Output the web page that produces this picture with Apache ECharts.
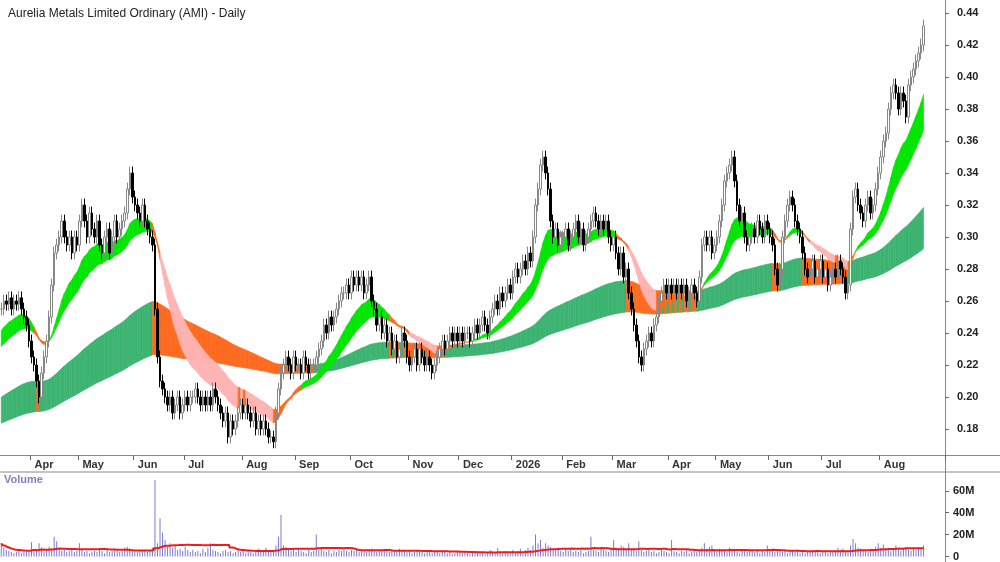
<!DOCTYPE html>
<html><head><meta charset="utf-8">
<script src="https://cdn.jsdelivr.net/npm/echarts@6/dist/echarts.min.js"></script>
<style>html,body{margin:0;padding:0;background:#fff}#c{width:1000px;height:562px}</style>
</head><body><div id="c"></div>
<script>
const title = 'Aurelia Metals Limited Ordinary (AMI) - Daily';
const startDate = '2025-03-14';
const blankDaysAfter = 8;
const holidays = ['2025-04-18','2025-04-21','2025-04-25','2025-06-09','2025-12-25','2025-12-26','2026-01-01','2026-01-26','2026-04-03','2026-04-06','2026-04-27','2026-06-08'];
const closes = [
0.255,0.26,0.258,0.262,0.255,0.26,0.258,0.262,0.255,0.25,
0.245,0.235,0.225,0.22,0.21,0.20,0.215,0.225,0.235,
0.25,0.27,0.29,0.295,0.30,0.31,0.30,0.295,0.30,0.29,
0.30,0.295,0.31,0.32,0.31,0.30,0.315,0.305,0.30,
0.31,0.295,0.29,0.30,0.305,0.29,0.30,0.31,0.30,0.305,
0.31,0.315,0.33,0.34,0.325,0.32,0.315,0.31,0.32,
0.31,0.305,0.30,0.295,0.255,0.225,0.21,0.205,0.20,0.195,
0.20,0.19,0.195,0.20,0.19,0.195,0.20,0.195,0.20,
0.20,0.205,0.20,0.195,0.20,0.195,0.20,0.195,0.205,0.20,
0.195,0.19,0.185,0.19,0.175,0.185,0.18,0.185,0.19,
0.195,0.19,0.195,0.19,0.185,0.19,0.18,0.185,0.18,0.185,
0.18,0.175,0.175,0.172,0.19,0.205,0.215,0.22,0.225,
0.22,0.215,0.225,0.22,0.22,0.215,0.225,0.22,0.215,0.22,
0.22,0.225,0.23,0.235,0.245,0.24,0.25,0.245,0.25,
0.255,0.26,0.265,0.265,0.27,0.265,0.275,0.27,0.275,0.27,
0.275,0.265,0.27,0.275,0.26,0.255,0.245,0.25,0.24,
0.245,0.235,0.24,0.23,0.235,0.225,0.23,0.24,0.235,0.225,
0.22,0.225,0.23,0.22,0.23,0.225,0.22,0.225,0.22,
0.215,0.22,0.225,0.23,0.235,0.23,0.235,0.24,0.235,0.24,
0.235,0.24,0.235,0.24,0.24,0.235,0.24,0.245,0.24,
0.245,0.25,0.245,0.24,0.25,0.255,0.26,0.255,0.265,0.26,
0.265,0.27,0.265,0.275,0.28,0.275,0.28,0.285,0.28,
0.29,0.285,0.30,0.32,0.33,0.345,0.35,0.34,0.33,0.31,
0.30,0.305,0.295,0.30,0.30,0.305,0.295,0.30,0.305,
0.31,0.30,0.305,0.295,0.30,0.305,0.31,0.315,0.31,0.305,
0.31,0.305,0.31,0.30,0.295,0.30,0.29,0.28,0.29,
0.275,0.28,0.265,0.255,0.245,0.235,0.225,0.22,0.23,0.235,
0.24,0.235,0.245,0.25,0.26,0.265,0.27,0.265,0.27,
0.265,0.27,0.265,0.27,0.265,0.27,0.26,0.265,0.27,0.265,
0.26,0.275,0.295,0.30,0.295,0.30,0.29,0.295,0.30,
0.31,0.32,0.335,0.34,0.345,0.35,0.335,0.32,0.31,0.315,
0.30,0.295,0.30,0.305,0.30,0.31,0.305,0.30,0.31,
0.305,0.30,0.295,0.28,0.27,0.28,0.30,0.31,0.32,0.325,
0.32,0.31,0.305,0.30,0.29,0.28,0.275,0.28,0.285,
0.275,0.28,0.285,0.275,0.28,0.27,0.275,0.28,0.275,0.285,
0.28,0.275,0.265,0.27,0.305,0.325,0.33,0.32,0.315,
0.31,0.32,0.325,0.315,0.32,0.33,0.34,0.35,0.36,0.365,
0.38,0.39,0.395,0.39,0.38,0.39,0.385,0.375,0.395,
0.40,0.405,0.41,0.415,0.42,0.432];
const volumesM = [
12,8,6,5,4,3,4,5,3,4,5,4,13,6,5,12,8,4,6,
9,7,18,14,8,5,6,4,5,7,4,5,12,6,4,5,3,4,5,
4,7,5,3,6,4,5,7,6,4,5,8,9,7,6,5,4,6,5,
5,4,6,8,70,12,35,22,15,9,12,8,10,6,7,5,9,6,4,
6,4,5,3,7,4,8,12,6,5,4,3,5,6,4,5,3,4,6,
4,5,3,6,4,3,5,7,4,6,8,5,4,6,10,18,38,10,9,
8,5,6,4,7,5,4,3,6,4,5,20,6,8,5,4,6,3,5,
4,6,5,8,5,4,6,5,7,4,5,6,4,5,7,6,4,5,6,
7,5,4,6,5,4,7,5,6,4,5,3,4,6,5,4,3,5,4,
3,4,5,3,4,6,3,4,2,3,5,4,3,4,3,2,4,3,5,
3,4,2,3,6,4,3,8,4,3,5,4,3,6,4,5,7,4,6,
8,6,10,20,12,15,8,12,10,9,7,6,8,5,4,6,5,7,4,
5,4,6,3,4,5,18,6,5,4,8,6,5,4,7,15,6,8,10,
9,7,12,6,8,5,14,6,4,5,6,4,5,3,4,6,5,4,3,
15,5,4,3,5,4,6,3,4,5,4,6,8,12,7,9,10,6,5,
7,5,6,4,8,5,6,4,3,5,6,4,7,5,4,6,3,5,4,
10,5,7,4,6,5,4,6,3,5,6,4,5,3,4,3,5,4,6,
4,5,3,4,6,3,5,4,6,8,5,7,4,6,10,16,12,8,7,
5,6,4,7,5,9,12,8,11,6,8,5,7,10,6,5,7,9,6,
5,7,6,8,7,10];
const shortPeriods = [18,20,23,26,29,32];
const shortSeeds = [0.240,0.238,0.236,0.234,0.232,0.230];
const longPeriods = [115,130,150,170,195,230];
const longSeeds = [0.199,0.196,0.193,0.190,0.187,0.183];
const monthNames = ['Jan','Feb','Mar','Apr','May','Jun','Jul','Aug','Sep','Oct','Nov','Dec'];
const wick = 0.004;

const n = closes.length;
const dates = [];
let d = new Date(startDate + 'T00:00:00Z');
while (dates.length < n + blankDaysAfter) {
  const s = d.toISOString().slice(0,10), wd = d.getUTCDay();
  if (wd !== 0 && wd !== 6 && holidays.indexOf(s) < 0) dates.push(s);
  d.setUTCDate(d.getUTCDate() + 1);
}
const ohlc = closes.map((c,i) => {
  const o = i === 0 ? c : closes[i-1];
  return [o, c, Math.min(o,c) - wick, Math.max(o,c) + wick];
});
function emas(periods, seeds) {
  return periods.map((p,k) => { const a = 2/(p+1); let e = seeds[k]; return closes.map(c => (e = e + a*(c-e))); });
}
const S = emas(shortPeriods, shortSeeds), L = emas(longPeriods, longSeeds);
const sLo = [], sHi = [], sCol = [], lLo = [], lHi = [], lCol = [];
for (let i = 0; i < n; i++) {
  const sv = S.map(a => a[i]), lv = L.map(a => a[i]);
  sLo.push(Math.min(...sv)); sHi.push(Math.max(...sv));
  lLo.push(Math.min(...lv)); lHi.push(Math.max(...lv));
  let bull = true, bear = true;
  for (let k = 1; k < sv.length; k++) { if (sv[k-1] < sv[k]) bull = false; if (sv[k-1] > sv[k]) bear = false; }
  sCol.push(bull ? '#00e600' : (bear && closes[i] < sv[0] ? '#ffb4b4' : '#ff6a1f'));
  lCol.push(closes[i] < lHi[i] ? '#ff6a1f' : '#3cb371');
}
function bandData(lo, hi) {
  const out = [];
  for (let i = 0; i < n - 1; i++) out.push([i, lo[i], hi[i], lo[i+1], hi[i+1]]);
  return out;
}
const bandColors = { long: lCol, short: sCol };
function bandRender(params, api) {
  const i = api.value(0);
  const p1 = api.coord([i, api.value(1)]), p2 = api.coord([i, api.value(2)]);
  const p3 = api.coord([i+1, api.value(4)]), p4 = api.coord([i+1, api.value(3)]);
  const c = bandColors[params.seriesName][params.dataIndex + 1];
  return { type: 'polygon', shape: { points: [p1,p2,p3,p4] }, style: { fill: c, stroke: c, lineWidth: 0.6 } };
}
const volMA = volumesM.map((v,i) => { const s = volumesM.slice(Math.max(0,i-29), i+1); return s.reduce((a,b)=>a+b,0)/s.length; });

function isMonthStart(i) { return i > 0 && i < n && dates[i].slice(0,7) !== dates[i-1].slice(0,7); }
const FONT = 'Liberation Sans';
const chart = echarts.init(document.getElementById('c'));
chart.setOption({
  animation: false,
  title: { text: title, left: 3, top: 3, textStyle: { fontSize: 12, fontWeight: 'normal', color: '#222', fontFamily: FONT } },
  graphic: [
    { type: 'text', left: 4, top: 474, style: { text: 'Volume', fill: '#8080c8', font: 'bold 11px Liberation Sans' } },
    { type: 'line', shape: { x1: 0, y1: 472, x2: 1000, y2: 472 }, style: { stroke: '#888', lineWidth: 1 } },
    { type: 'line', shape: { x1: 0, y1: 455.5, x2: 1000, y2: 455.5 }, style: { stroke: '#888', lineWidth: 1 } },
    { type: 'line', shape: { x1: 945.5, y1: 0, x2: 945.5, y2: 562 }, style: { stroke: '#888', lineWidth: 1 } }
  ],
  grid: [
    { left: 0, right: 55, top: 0, height: 461 },
    { left: 0, right: 55, top: 475, height: 82 }
  ],
  xAxis: [
    { type: 'category', data: dates, gridIndex: 0, offset: -6, boundaryGap: true,
      axisLine: { show: false },
      axisTick: { show: true, interval: isMonthStart, length: 5, lineStyle: { color: '#666' } },
      axisLabel: { interval: isMonthStart, align: 'left', margin: 4, padding: [0,0,0,3], fontSize: 11, fontWeight: 'bold', fontFamily: FONT, color: '#333',
        formatter: v => { const m = +v.slice(5,7) - 1; return m === 0 ? v.slice(0,4) : monthNames[m]; } },
      splitLine: { show: false } },
    { type: 'category', data: dates, gridIndex: 1, axisLine: { show: false }, axisTick: { show: false }, axisLabel: { show: false } }
  ],
  yAxis: [
    { type: 'value', gridIndex: 0, position: 'right', min: 0.16, max: 0.448125, interval: 0.02,
      axisLine: { show: false }, axisTick: { show: true, length: 4, lineStyle: { color: '#666' } }, splitLine: { show: false },
      axisLabel: { showMinLabel: false, showMaxLabel: false, margin: 12, fontSize: 11, fontWeight: 'bold', fontFamily: FONT, color: '#222', formatter: v => v.toFixed(2) } },
    { type: 'value', gridIndex: 1, position: 'right', min: 0, max: 74.5, interval: 20,
      axisLine: { show: false }, axisTick: { show: true, length: 4, lineStyle: { color: '#666' } }, splitLine: { show: false },
      axisLabel: { showMaxLabel: false, margin: 8, fontSize: 11, fontWeight: 'bold', fontFamily: FONT, color: '#222', formatter: v => v === 0 ? '0' : v + 'M' } }
  ],
  series: [
    { name: 'long', type: 'custom', xAxisIndex: 0, yAxisIndex: 0, renderItem: bandRender, data: bandData(lLo, lHi), encode: { x: 0, y: [1,2,3,4] }, z: 1 },
    { name: 'short', type: 'custom', xAxisIndex: 0, yAxisIndex: 0, renderItem: bandRender, data: bandData(sLo, sHi), encode: { x: 0, y: [1,2,3,4] }, z: 2 },
    { name: 'price', type: 'candlestick', xAxisIndex: 0, yAxisIndex: 0, data: ohlc, barWidth: 2, z: 3,
      itemStyle: { color: '#ffffff', borderColor: '#888', color0: '#000', borderColor0: '#000', borderWidth: 1 } },
    { name: 'vol', type: 'bar', xAxisIndex: 1, yAxisIndex: 1, data: volumesM, barWidth: 1, itemStyle: { color: '#7b7bd0' } },
    { name: 'volma', type: 'line', xAxisIndex: 1, yAxisIndex: 1, data: volMA, showSymbol: false, step: 'middle', lineStyle: { color: '#ee1c1c', width: 2 } }
  ]
});
</script></body></html>
